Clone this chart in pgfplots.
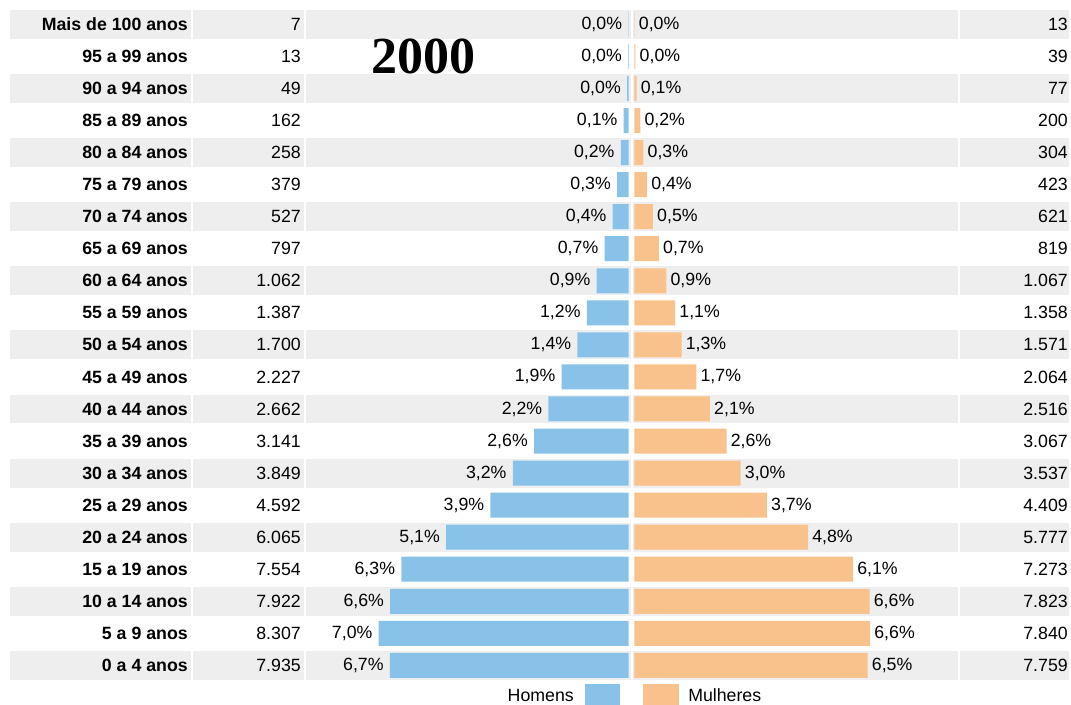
\documentclass[border=0pt]{standalone}
\usepackage{pgfplots}
\usepackage{pgfplotstable}
\pgfplotsset{compat=1.18}
\usepackage{fontspec}
\setmainfont{Liberation Sans}
\newfontfamily\titlefont{Liberation Serif}

\definecolor{homens}{HTML}{89C2E8}
\definecolor{mulheres}{HTML}{F9C18B}
\definecolor{faixa}{HTML}{EEEEEE}

% row 0 = top; m/f = homens/mulheres (population), mt/ft = printed, pm/pf = percent
\pgfplotstableread[col sep=semicolon, row sep=\\]{
row;age;m;f;mt;ft;pm;pf\\
0;Mais de 100 anos;7;13;7;13;0,0\%;0,0\%\\
1;95 a 99 anos;13;39;13;39;0,0\%;0,0\%\\
2;90 a 94 anos;49;77;49;77;0,0\%;0,1\%\\
3;85 a 89 anos;162;200;162;200;0,1\%;0,2\%\\
4;80 a 84 anos;258;304;258;304;0,2\%;0,3\%\\
5;75 a 79 anos;379;423;379;423;0,3\%;0,4\%\\
6;70 a 74 anos;527;621;527;621;0,4\%;0,5\%\\
7;65 a 69 anos;797;819;797;819;0,7\%;0,7\%\\
8;60 a 64 anos;1062;1067;1.062;1.067;0,9\%;0,9\%\\
9;55 a 59 anos;1387;1358;1.387;1.358;1,2\%;1,1\%\\
10;50 a 54 anos;1700;1571;1.700;1.571;1,4\%;1,3\%\\
11;45 a 49 anos;2227;2064;2.227;2.064;1,9\%;1,7\%\\
12;40 a 44 anos;2662;2516;2.662;2.516;2,2\%;2,1\%\\
13;35 a 39 anos;3141;3067;3.141;3.067;2,6\%;2,6\%\\
14;30 a 34 anos;3849;3537;3.849;3.537;3,2\%;3,0\%\\
15;25 a 29 anos;4592;4409;4.592;4.409;3,9\%;3,7\%\\
16;20 a 24 anos;6065;5777;6.065;5.777;5,1\%;4,8\%\\
17;15 a 19 anos;7554;7273;7.554;7.273;6,3\%;6,1\%\\
18;10 a 14 anos;7922;7823;7.922;7.823;6,6\%;6,6\%\\
19;5 a 9 anos;8307;7840;8.307;7.840;7,0\%;6,6\%\\
20;0 a 4 anos;7935;7759;7.935;7.759;6,7\%;6,5\%\\
}\piramide

\pgfplotsset{
  base/.style={scale only axis, height=528pt, ymin=-0.76, ymax=21.205,
    y dir=reverse, hide axis, anchor=north west},
  lbl/.style={draw=none, mark=none, nodes near coords, point meta=explicit symbolic},
}
\newcommand\lab{\fontsize{13.3}{15}\selectfont}

\begin{document}
\begin{tikzpicture}
\useasboundingbox (0,0) rectangle (803.25pt,-528pt);
% background: x in pixels
\begin{axis}[base, at={(0pt,0pt)}, width=803.25pt, xmin=0, xmax=1071]
\pgfplotsinvokeforeach{0,2,...,20}{
  \fill[faixa] (axis cs:10,#1-0.452) rectangle (axis cs:191,#1+0.452);
  \fill[faixa] (axis cs:193,#1-0.452) rectangle (axis cs:303.5,#1+0.452);
  \fill[faixa] (axis cs:305.5,#1-0.452) rectangle (axis cs:631,#1+0.452);
  \fill[faixa] (axis cs:633,#1-0.452) rectangle (axis cs:958,#1+0.452);
  \fill[faixa] (axis cs:960,#1-0.452) rectangle (axis cs:1069,#1+0.452);
}
\addplot[lbl, every node near coord/.append style={anchor=east, inner sep=0pt, font=\lab\bfseries}]
  table[x expr=188, y=row, meta=age] {\piramide};
\addplot[lbl, every node near coord/.append style={anchor=east, inner sep=0pt, font=\lab}]
  table[x expr=301, y=row, meta=mt] {\piramide};
\addplot[lbl, every node near coord/.append style={anchor=east, inner sep=0pt, font=\lab}]
  table[x expr=1068, y=row, meta=ft] {\piramide};
\node[font=\titlefont\bfseries\fontsize{39}{42}\selectfont, inner sep=0pt] at (axis cs:423,1) {2000};
% legend
\node[anchor=east, inner sep=0pt, font=\lab] at (axis cs:574,20.94) {Homens};
\fill[homens] (axis cs:585,20.59) rectangle (axis cs:620,21.3);
\fill[mulheres] (axis cs:643,20.59) rectangle (axis cs:679,21.3);
\node[anchor=west, inner sep=0pt, font=\lab] at (axis cs:688,20.94) {Mulheres};
\end{axis}
% homens
\begin{axis}[base, at={(0pt,0pt)}, width=471.4pt, x dir=reverse, xmin=0, xmax=20895]
\addplot[xbar, bar width=18.75pt, bar shift=0pt, fill=homens, draw=none]
  table[x=m, y=row] {\piramide};
\addplot[lbl, every node near coord/.append style={anchor=east, inner sep=0pt, xshift=-4.5pt, font=\lab}]
  table[x=m, y=row, meta=pm] {\piramide};
\end{axis}
% mulheres
\begin{axis}[base, at={(475.7pt,0pt)}, width=327.55pt, xmin=0, xmax=14518]
\addplot[xbar, bar width=18.75pt, bar shift=0pt, fill=mulheres, draw=none]
  table[x=f, y=row] {\piramide};
\addplot[lbl, every node near coord/.append style={anchor=west, inner sep=0pt, xshift=3pt, font=\lab}]
  table[x=f, y=row, meta=pf] {\piramide};
\end{axis}
\end{tikzpicture}
\end{document}
